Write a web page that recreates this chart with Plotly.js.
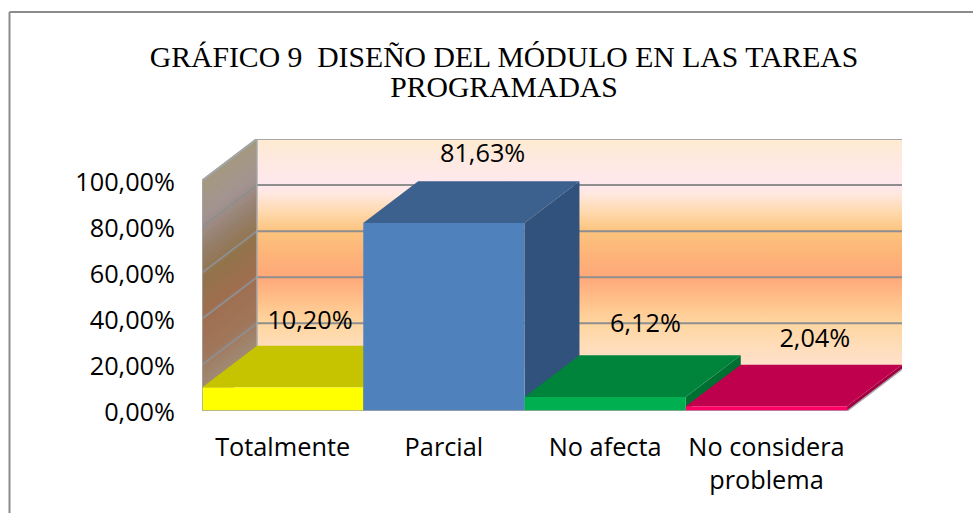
<!DOCTYPE html>
<html>
<head>
<meta charset="utf-8">
<script src="https://cdn.plot.ly/plotly-3.0.1.min.js"></script>
<style>
html,body{margin:0;padding:0;background:#fff;overflow:hidden}
#chart{position:absolute;left:0;top:0;width:973px;height:513px}
</style>
</head>
<body>
<div id="chart"></div>
<script>
const categories = ['Totalmente', 'Parcial', 'No afecta', 'No considera<br>problema'];
const values = [10.20, 81.63, 6.12, 2.04];
const valueLabels = ['10,20%', '81,63%', '6,12%', '2,04%'];
const yTickVals = [0, 20, 40, 60, 80, 100];
const yTickText = ['0,00%', '20,00%', '40,00%', '60,00%', '80,00%', '100,00%'];
const frontColors = ['#FFFF00', '#4F81BD', '#00B050', '#FF0066'];
const topColors = ['#C6C300', '#3C618E', '#00843C', '#BF004C'];
const sideColors = ['#A09E00', '#30527C', '#006F32', '#A00040'];

const W = 973, H = 513;
const plotL = 202, plotR = 902, plotT = 138.5, plotB = 410.7;
const DX = 55 / 161.5;   // oblique depth, in category units
const DY = 41.7 / 2.305; // oblique depth, in value units
const xMax = 4 + DX, yMax = 100 + DY;
const xOf = i => i + 0.5;
const FONT = '"Open Sans", sans-serif', FS = 25.3;

const poly = (xs, ys, color, extra) => Object.assign({
  type: 'scatter', mode: 'lines', x: xs.concat(xs[0]), y: ys.concat(ys[0]),
  fill: 'toself', fillcolor: color, line: {width: 0}, hoverinfo: 'skip', showlegend: false
}, extra || {});

// back wall
const wallGradient = [
  [0.0, '#FFE1CE'], [0.10, '#FFDDBA'], [0.20, '#FFD6A0'], [0.30, '#FFC08A'], [0.40, '#FFA87A'],
  [0.50, '#FDB478'], [0.60, '#FCC37E'], [0.68, '#FFD8AC'], [0.76, '#FFE8DE'],
  [0.80, '#FFE8EE'], [0.90, '#FFE9E2'], [1.0, '#FEEBD0']
];
const traces = [];
traces.push(Object.assign(poly([DX, xMax, xMax, DX], [DY, DY, yMax, yMax], 'rgba(255,230,210,1)'), {
  fillgradient: {type: 'vertical', start: DY, stop: yMax, colorscale: wallGradient}
}));

// side wall, painted from the top down so the bands share no seams
const sideStops = [
  [100, [165,152,128]], [85, [163,148,146]], [72, [150,128,110]], [58, [146,115,74]],
  [42, [160,110,80]], [25, [160,118,90]], [8, [160,142,122]], [0, [155,150,135]]
];
function sideColor(v) {
  for (let k = 0; k < sideStops.length - 1; k++) {
    const [a, ca] = sideStops[k], [b, cb] = sideStops[k + 1];
    if (v <= a && v >= b) {
      const t = (a - v) / (a - b);
      return 'rgb(' + ca.map((c, j) => Math.round(c + (cb[j] - c) * t)).join(',') + ')';
    }
  }
  return 'rgb(155,150,135)';
}
for (let v = 100; v > 0; v -= 2) {
  traces.push(poly([0, DX, DX, 0], [0, DY, v + DY, v], sideColor(v)));
}

// gridlines on both walls
const gridColor = '#8E8E8E';
yTickVals.forEach(v => {
  if (v === 0) return;
  traces.push({type: 'scatter', mode: 'lines', x: [0, DX, xMax], y: [v, v + DY, v + DY],
    line: {color: gridColor, width: 2}, hoverinfo: 'skip', showlegend: false});
});
// wall outline
traces.push({type: 'scatter', mode: 'lines', x: [0, DX, xMax], y: [100, yMax, yMax],
  line: {color: '#A6A6A6', width: 2}, hoverinfo: 'skip', showlegend: false});
traces.push({type: 'scatter', mode: 'lines', x: [DX, DX], y: [DY, yMax],
  line: {color: '#A6A6A6', width: 1.5}, hoverinfo: 'skip', showlegend: false});

// top and side faces, left to right so each bar covers the depth of the one before
[0, 1, 2, 3].forEach(i => {
  const a = i, b = a + 1, v = values[i];
  traces.push(poly([b, b + DX, b + DX, b], [0, DY, v + DY, v], sideColors[i]));
  traces.push(poly([a, a + DX, b + DX, b], [v, v + DY, v + DY, v], topColors[i]));
});

// front faces as real bars, on an overlaid subplot so they sit above the walls
traces.push({
  type: 'bar', xaxis: 'x2', yaxis: 'y2', x: categories.map((_, i) => xOf(i)), y: values, width: 1,
  marker: {color: frontColors, line: {width: 0}}, hoverinfo: 'x+y', showlegend: false
});

// front edges
traces.push({type: 'scatter', mode: 'lines', xaxis: 'x2', yaxis: 'y2', x: [0, 0, 4, 4 + DX], y: [100, 0, 0, DY],
  line: {color: '#A6A6A6', width: 1.5}, hoverinfo: 'skip', showlegend: false});

// value labels
const labelX = [0.67, 1.74, 2.75, 3.80];
const labelY = [38.5, 111.0, 37.2, 30.6];
traces.push({
  type: 'scatter', mode: 'text', xaxis: 'x2', yaxis: 'y2', x: labelX, y: labelY, text: valueLabels,
  textposition: 'middle center', textfont: {family: FONT, size: FS, color: '#000'},
  hoverinfo: 'skip', showlegend: false, cliponaxis: false
});

const bx = (10 - plotL) / (plotR - plotL) - 0.5 / (plotR - plotL);
const bt = (plotB - 11.5) / (plotB - plotT);
const layout = {
  width: W, height: H, autosize: false, showlegend: false,
  paper_bgcolor: '#fff', plot_bgcolor: 'rgba(0,0,0,0)', barmode: 'overlay',
  margin: {l: plotL, r: W - plotR, t: plotT, b: H - plotB, pad: 0},
  title: {
    text: 'GRÁFICO 9\u00A0\u00A0DISEÑO DEL MÓDULO EN LAS TAREAS<br>PROGRAMADAS',
    font: {family: '"Liberation Serif", serif', size: 29.7, color: '#000'},
    x: 504 / W, xanchor: 'center', y: 1 - 67 / H, yanchor: 'bottom'
  },
  xaxis: {
    range: [0, xMax], tickmode: 'array', tickvals: categories.map((_, i) => xOf(i)), ticktext: categories,
    showgrid: false, zeroline: false, showline: false, ticks: '', tickangle: 0,
    ticklabelstandoff: 19,
    tickfont: {family: FONT, size: FS, color: '#000'}, automargin: false
  },
  yaxis: {
    range: [0, yMax], tickmode: 'array', tickvals: yTickVals, ticktext: yTickText,
    showgrid: false, zeroline: false, showline: false, ticks: '',
    ticklabelstandoff: 26, ticklabelshift: 1,
    tickfont: {family: FONT, size: FS, color: '#000'}, automargin: false
  },
  xaxis2: {range: [0, xMax], overlaying: 'x', visible: false},
  yaxis2: {range: [0, yMax], overlaying: 'y', visible: false},
  shapes: [
    {type: 'line', xref: 'paper', yref: 'paper', x0: bx, x1: (W - plotL) / (plotR - plotL), y0: bt, y1: bt,
      line: {color: '#8C8C8C', width: 2}},
    {type: 'line', xref: 'paper', yref: 'paper', x0: bx, x1: bx, y0: bt, y1: (plotB - H) / (plotB - plotT),
      line: {color: '#8C8C8C', width: 2}}
  ]
};
Plotly.newPlot('chart', traces, layout, {displayModeBar: false, responsive: false, staticPlot: true}).then(() => {
  // the reference sets its two title lines closer than Plotly's default spacing
  const lines = document.querySelectorAll('.gtitle tspan.line');
  if (lines.length > 1) lines[1].setAttribute('dy', '1.01em');
});
</script>
</body>
</html>
